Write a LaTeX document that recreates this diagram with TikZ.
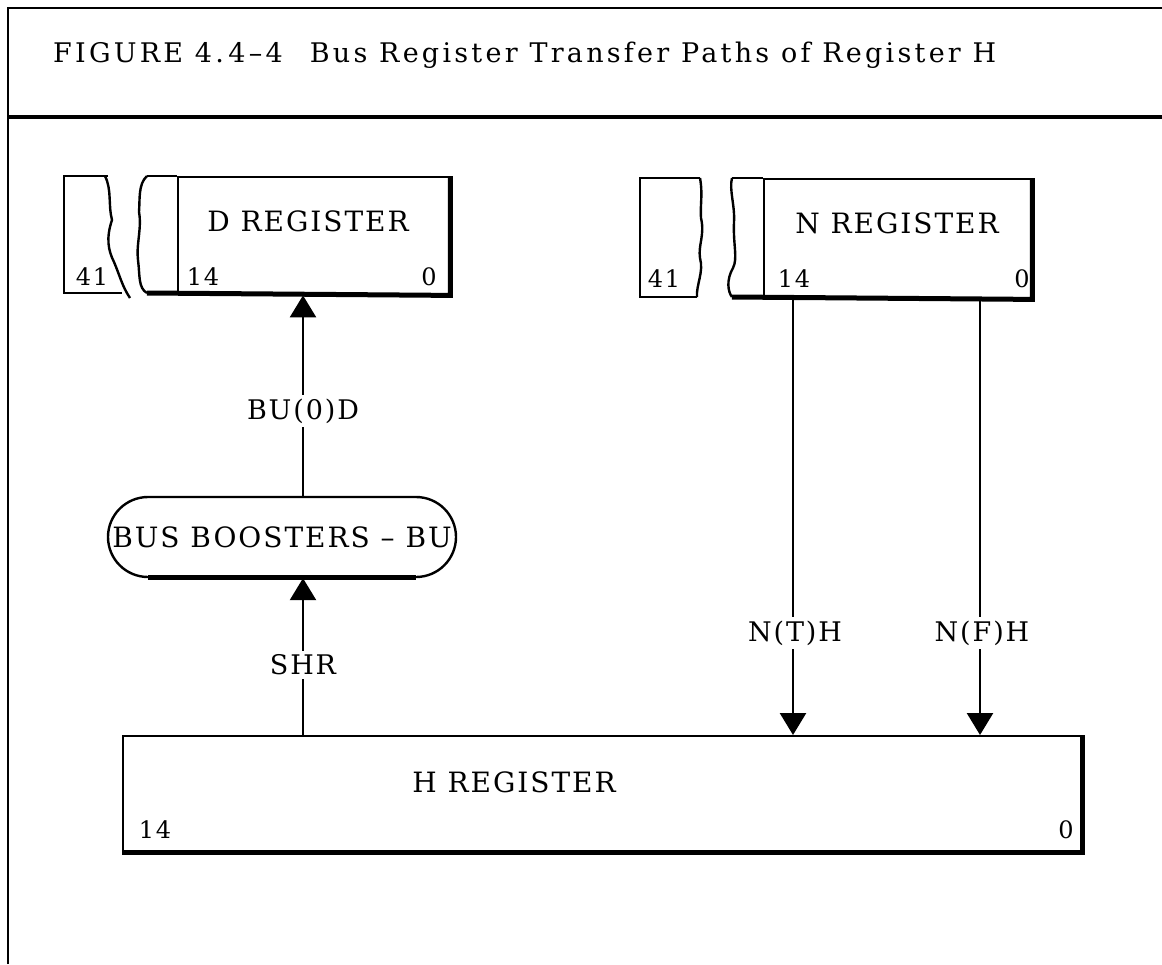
\documentclass[tikz,border=0pt]{standalone}
\usepackage{fontspec}
\setmainfont{DejaVu Serif}[LetterSpace=7]
\newfontfamily\titlefont{DejaVu Serif}[LetterSpace=12]
\usetikzlibrary{arrows.meta}
\begin{document}
\begin{tikzpicture}[x=1pt,y=-1pt,
  thin/.style={line width=2.4},
  thick5/.style={line width=5},
  regbox/.style={draw, line width=2.4, rectangle, inner sep=0, anchor=north west},
  lbl/.style={font=\fontsize{28}{32}\selectfont, inner sep=2},
  bit/.style={font=\fontsize{24}{28}\selectfont, inner sep=0, anchor=base},
  flow/.style={line width=2.6, -{Triangle[width=26,length=22]}},
  cut/.style={fill=white, inner sep=4, font=\fontsize{27}{31}\selectfont}]
\useasboundingbox (0,0) rectangle (1162,964);
% frame
\draw[line width=2.2] (8,964) -- (8,8) -- (1162,8);
\draw[line width=3.5] (8,117) -- (1162,117);
\node[anchor=base west, font=\titlefont\fontsize{27}{31}\selectfont, inner sep=0] (title) at (53,62) {FIGURE 4.\,4–4\quad Bus Register Transfer Paths of Register H};

% D register
\draw[thin] (108,176) -- (64,176) -- (64,293) -- (122,293);
\draw[thin] (105,176) .. controls (112,190) and (108,205) .. (112,220) .. controls (106,238) and (108,250) .. (114,262) .. controls (120,276) and (122,286) .. (130,298);
\draw[thin] (147,176) .. controls (138,184) and (140,200) .. (139,212) .. controls (142,228) and (136,245) .. (138,260) .. controls (140,275) and (138,288) .. (147,293);
\draw[thin] (147,176) -- (177,176);
\node[regbox, minimum width=271, minimum height=117] (D) at (177,176) {};
\draw[thick5] (D.north east) -- (D.south east) -- (147,293);
\node[lbl] (Dname) at (308,221) {D REGISTER};
\node[bit] (D41) at (92,285) {41};
\node[bit] (D14) at (203,285) {14};
\node[bit] (D0) at (429,285) {0};

% N register
\draw[thin] (700,178) -- (640,178) -- (640,297) -- (697,297);
\draw[thin] (700,178) .. controls (703,195) and (700,205) .. (701,218) .. controls (705,235) and (698,245) .. (700,258) .. controls (704,272) and (696,285) .. (697,297);
\draw[thin] (732,178) .. controls (729,190) and (735,205) .. (734,222) .. controls (733,245) and (738,258) .. (733,268) .. controls (726,280) and (728,292) .. (732,297);
\draw[thin] (732,178) -- (763,178);
\node[regbox, minimum width=267, minimum height=119] (N) at (763,178) {};
\draw[thick5] (N.north east) -- (N.south east) -- (732,297);
\node[lbl] (Nname) at (897,223) {N REGISTER};
\node[bit] (N41) at (664,287) {41};
\node[bit] (N14) at (794,287) {14};
\node[bit] (N0) at (1022,287) {0};

% Bus boosters
\node[draw, line width=2.4, rounded corners=40, minimum width=348, minimum height=80, inner sep=0, lbl] (B) at (282,537) {BUS BOOSTERS – BU};
\draw[thick5] (148,577) -- (416,577);

% H register
\node[regbox, minimum width=958, minimum height=115] (H) at (122,735) {};
\draw[thick5] (H.north east) -- (H.south east) -- (H.south west);
\node[lbl] (Hname) at (514,782) {H REGISTER};
\node[bit] (H14) at (155,838) {14};
\node[bit] (H0) at (1066,838) {0};

% connectors
\coordinate (cx) at (303,0);
\coordinate (tx) at (793,0);
\coordinate (fx) at (980,0);
\draw[flow] (cx |- B.north) -- (cx |- D.south);
\node[cut] (l1) at (303,411) {BU(0)D};
\draw[flow] (cx |- H.north) -- (cx |- B.south);
\node[cut] (l2) at (303,665) {SHR};
\draw[flow] (tx |- N.south) -- (tx |- H.north);
\node[cut] (l3) at (795,633) {N(T)H};
\draw[flow] (fx |- N.south) -- (fx |- H.north);
\node[cut] (l4) at (982,633) {N(F)H};
\end{tikzpicture}
\end{document}
